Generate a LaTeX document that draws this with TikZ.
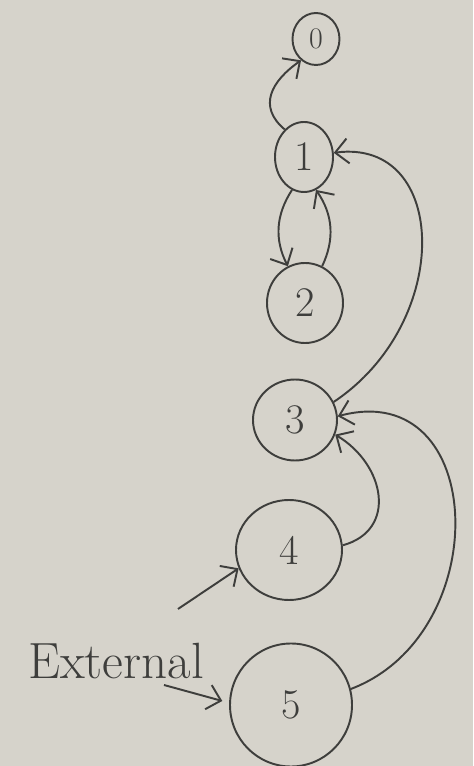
\documentclass[tikz,border=0pt]{standalone}
\usepackage{tikz}
\usetikzlibrary{arrows.meta,shapes.geometric}
\definecolor{paper}{RGB}{214,211,203}
\definecolor{pencil}{RGB}{62,62,60}

\begin{document}
\begin{tikzpicture}[
  state/.style={ellipse,draw=pencil,line width=1.1pt,inner sep=0pt,text=pencil,font=\fontsize{24}{28}\selectfont},
  link/.style={draw=pencil,line width=1.1pt,-{Straight Barb[length=2.6mm,width=5mm]}}
]
\fill[paper] (0,0) rectangle (9.46,15.32);
\useasboundingbox (0,0) rectangle (9.46,15.32);
\node[state,minimum width=0.94cm,minimum height=1.04cm,font=\fontsize{17}{20}\selectfont] (n0) at (6.32,14.54) {0};
\node[state,minimum width=1.16cm,minimum height=1.40cm] (n1) at (6.08,12.18) {1};
\node[state,minimum width=1.52cm,minimum height=1.60cm] (n2) at (6.10,9.26) {2};
\node[state,minimum width=1.68cm,minimum height=1.62cm] (n3) at (5.90,6.92) {3};
\node[state,minimum width=2.12cm,minimum height=2.00cm] (n4) at (5.78,4.32) {4};
\node[state,minimum width=2.44cm,minimum height=2.46cm] (n5) at (5.82,1.22) {5};
\node[text=pencil,font=\fontsize{29}{33}\selectfont] (ext) at (2.32,2.10) {External};
\coordinate (e4) at (3.56,3.14);
\coordinate (e5) at (3.28,1.62);
% edges between the states
\draw[link] (n1.125) to[out=140,in=215,looseness=1.3] (n0.235);
\draw[link] (n1.250) to[bend right=30] (n2.115);
\draw[link] (n2.65) to[bend right=30] (n1.290);
\draw[link] (n3.25) .. controls +(2.4,1.6) and +(2.3,0.3) .. (n1.8);
\draw[link] (n4.5) .. controls +(1.1,0.3) and +(1.0,-0.6) .. (n3.-20);
\draw[link] (n5.15) .. controls +(2.9,1.1) and +(3.0,0.8) .. (n3.5);
% external inputs
\draw[link] (e4) -- (n4.200);
\draw[link,shorten >=4pt] (e5) -- (n5.178);
\end{tikzpicture}
\end{document}
